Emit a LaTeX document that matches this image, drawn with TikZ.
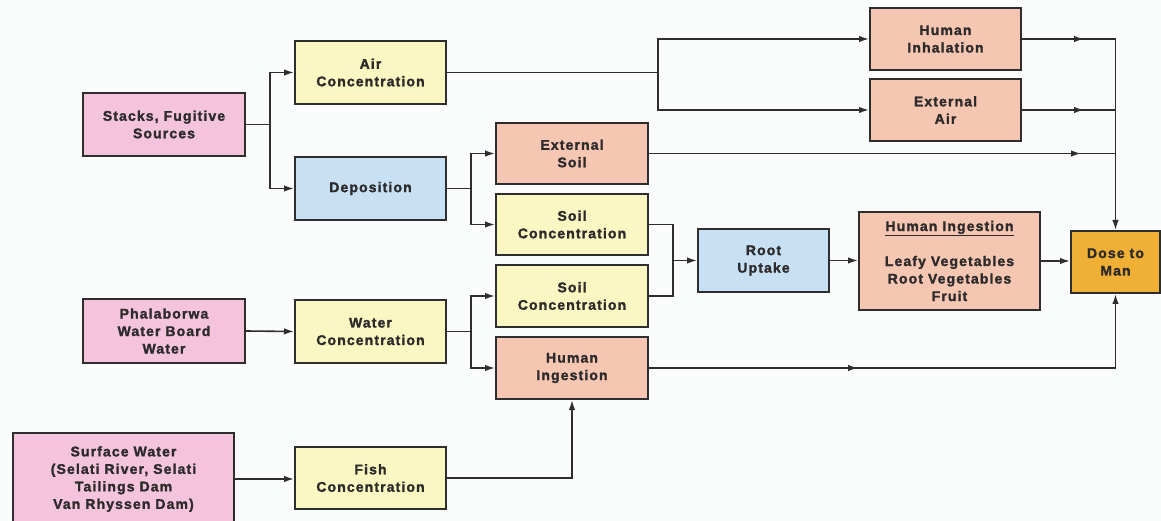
\documentclass[tikz,border=0pt]{standalone}
\usepackage{fontspec}
\newfontfamily\labelfont{Liberation Sans}[LetterSpace=8, BoldFeatures={FakeBold=1.6}]
\usetikzlibrary{arrows.meta,decorations.markings}

\definecolor{bgc}{HTML}{FAFBFB}
\definecolor{edge}{HTML}{2E2E2E}
\definecolor{ink}{HTML}{2C2A2A}
\definecolor{srcpink}{HTML}{F4C4DC}
\definecolor{concyel}{HTML}{FAF7C2}
\definecolor{procblue}{HTML}{C8E0F4}
\definecolor{expsalmon}{HTML}{F5C6B2}
\definecolor{doseorg}{HTML}{F0B035}

\tikzset{
  flowtip/.tip={Latex[length=10bp,width=6.5bp]},
  box/.style={draw=edge, line width=2bp, text=ink, align=center, inner sep=0pt,
    font=\labelfont\bfseries\fontsize{14bp}{17.5bp}\selectfont},
  size/.style 2 args={minimum width=#1bp, minimum height=#2bp},
  conn/.style={draw=edge, line width=1.6bp},
  arr/.style={conn, -flowtip},
  midarrow/.style={postaction={decorate},
    decoration={markings, mark=at position #1 with {\arrow{flowtip}}}},
}

\begin{document}
\begin{tikzpicture}[x=1bp, y=-1bp]
\clip (0,0) rectangle (1161,521);
\fill[bgc] (0,0) rectangle (1161,521);

% sources
\node[box, fill=srcpink, size={162}{63}] (stacks) at (164,124.5) {Stacks, Fugitive\\Sources};
\node[box, fill=srcpink, size={162}{64}] (phal) at (164,331) {Phalaborwa\\Water Board\\Water};
\node[box, fill=srcpink, size={221}{92}] (surf) at (123.5,479) {Surface Water\\(Selati River, Selati\\Tailings Dam\\Van Rhyssen Dam)};

% concentrations and transfer steps
\node[box, fill=concyel, size={151}{63}] (air) at (370.5,72.5) {Air\\Concentration};
\node[box, fill=procblue, size={151}{63}] (dep) at (370.5,188.5) {Deposition};
\node[box, fill=concyel, size={151}{63}] (water) at (370.5,331.5) {Water\\Concentration};
\node[box, fill=concyel, size={151}{62}] (fish) at (370.5,478) {Fish\\Concentration};

\node[box, fill=expsalmon, size={152}{61}] (extsoil) at (572,153.5) {External\\Soil};
\node[box, fill=concyel, size={152}{61}] (soilc1) at (572,224.5) {Soil\\Concentration};
\node[box, fill=concyel, size={152}{62}] (soilc2) at (572,296) {Soil\\Concentration};
\node[box, fill=expsalmon, size={152}{62}] (ingS) at (572,368) {Human\\Ingestion};

\node[box, fill=procblue, size={131}{63}] (root) at (763.5,260.5) {Root\\Uptake};

% exposure pathways
\node[box, fill=expsalmon, size={151}{62}] (inh) at (945.5,39) {Human\\Inhalation};
\node[box, fill=expsalmon, size={151}{62}] (extair) at (945.5,110) {External\\Air};
\node[box, fill=expsalmon, size={181}{98}] (ingB) at (949.5,261)
  {\underline{Human Ingestion}\\[17.5bp]Leafy Vegetables\\Root Vegetables\\Fruit};

\node[box, fill=doseorg, size={89}{62}] (dose) at (1115.5,262) {Dose to\\Man};

% branch and merge points
\coordinate (sbr) at (270,124.5);
\coordinate (abr) at (658,72.5);
\coordinate (dbr) at (471,188.5);
\coordinate (wbr) at (471,331.5);
\coordinate (mrg) at (673,260.5);

% connectors
\draw[conn] (stacks.east) -- (sbr);
\draw[arr] (sbr) |- (air.west);
\draw[arr] (sbr) |- (dep.west);

\draw[conn] (air.east) -- (abr);
\draw[arr] (abr) |- (inh.west);
\draw[arr] (abr) |- (extair.west);

\draw[conn] (dep.east) -- (dbr);
\draw[arr] (dbr) |- (extsoil.west);
\draw[arr] (dbr) |- (soilc1.west);

\draw[arr] (phal.east) -- (water.west);
\draw[conn] (water.east) -- (wbr);
\draw[arr] (wbr) |- (soilc2.west);
\draw[arr] (wbr) |- (ingS.west);

\draw[arr] (surf.east) -- (surf.east -| fish.west);
\draw[arr] (fish.east) -| (ingS.south);

\draw[conn] (soilc1.east) -| (mrg);
\draw[conn] (soilc2.east) -| (mrg);
\draw[arr] (mrg) -- (root.west);
\draw[arr] (root.east) -- (root.east -| ingB.west);
\draw[arr] (ingB.east) -- (ingB.east -| dose.west);

\draw[arr, midarrow=62bp] (inh.east) -| (dose.north);
\draw[conn, midarrow=62bp] (extair.east) -- (extair.east -| dose.north);
\draw[conn, midarrow=432bp] (extsoil.east) -- (extsoil.east -| dose.north);
\draw[arr, midarrow=209bp] (ingS.east) -| (dose.south);
\end{tikzpicture}
\end{document}
